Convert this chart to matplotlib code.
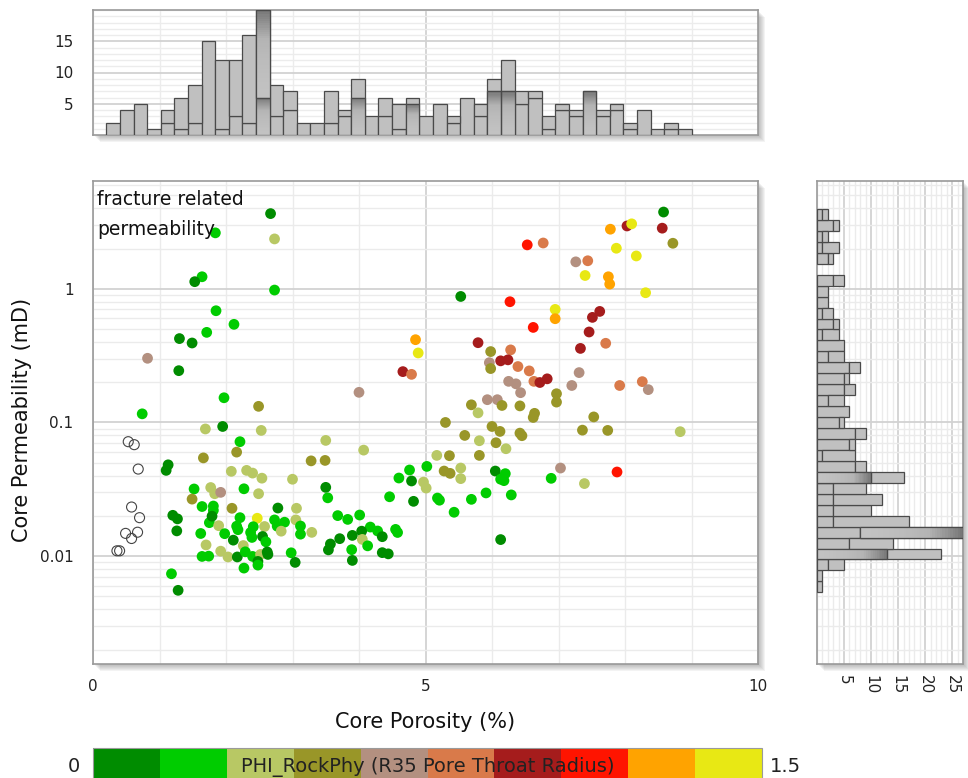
import numpy as np
import matplotlib as mpl
import matplotlib.pyplot as plt
from matplotlib.colors import ListedColormap, BoundaryNorm, LinearSegmentedColormap
from matplotlib.patches import Rectangle
from matplotlib.ticker import MultipleLocator, LogLocator, NullFormatter, FixedLocator

# ── scatter data: core porosity (%), core permeability (mD), R35 (microns) ──
porosity = [
    2.67, 2.73, 1.84, 1.64, 1.53, 2.73, 1.85, 2.12, 1.71, 1.30, 1.49, 0.82, 1.29, 4.00, 1.97,
    2.49, 0.74, 1.69, 1.95, 2.53, 4.85, 4.89, 4.66, 4.79, 8.58, 8.56, 8.72, 7.78, 8.03, 8.10,
    6.53, 6.77, 7.87, 8.17, 7.26, 7.44, 7.40, 7.75, 7.77, 8.31, 5.53, 6.27, 6.95, 6.95, 7.62,
    7.51, 6.62, 7.46, 5.79, 5.98, 6.28, 7.71, 7.33, 5.96, 6.13, 6.24, 5.98, 6.39, 6.56, 7.31,
    6.25, 6.36, 6.63, 6.72, 6.83, 7.20, 7.92, 8.26, 8.35, 6.43, 6.97, 6.97, 5.93, 6.08, 5.69,
    5.79, 6.15, 6.42, 6.64, 6.62, 7.53, 5.30, 6.00, 6.12, 5.59, 6.42, 6.45, 5.81, 6.06, 6.21,
    5.17, 5.36, 5.81, 7.36, 7.74, 8.83, 5.02, 5.28, 5.37, 5.53, 5.53, 6.05, 6.20, 6.13, 6.18,
    7.03, 6.89, 4.97, 5.01, 5.18, 5.21, 5.69, 5.91, 6.29, 5.43, 7.88, 7.39, 6.13,
    0.53, 0.62, 0.68, 0.58, 0.70, 0.49, 0.67, 0.58, 0.36, 0.40,
    2.21, 2.16, 3.50, 4.07, 1.66, 3.28, 3.49, 1.13, 1.10, 2.08, 2.31, 2.40, 2.54, 3.00, 2.27,
    2.49, 3.50, 3.53, 1.52, 1.77, 1.83, 1.92, 1.49, 1.64, 1.81, 1.81, 2.09, 2.78, 3.06, 1.20,
    1.27, 1.26, 1.75, 1.79, 1.89, 2.21, 2.16, 1.62, 1.98, 2.11, 2.47, 2.41, 2.58, 2.73, 2.77,
    2.88, 2.83, 3.05, 3.12, 3.12, 3.29, 2.39, 2.55, 2.60, 1.70, 1.92, 2.03, 1.64, 1.74, 2.17,
    2.26, 2.29, 2.40, 2.52, 2.62, 2.63, 2.48, 2.48, 2.27, 2.98, 3.04, 1.18, 1.28, 3.68, 3.83,
    4.01, 4.17, 4.28, 4.04, 3.90, 4.05, 4.35, 3.71, 3.57, 3.54, 4.13, 3.89, 3.90, 4.35, 4.44,
    4.55, 4.58, 4.46, 4.60, 4.76, 4.79, 4.82, 2.37, 2.18,
]
permeability = [
    3.65, 2.36, 2.62, 1.23, 1.13, 0.978, 0.685, 0.542, 0.472, 0.424, 0.393, 0.302, 0.244, 0.168, 0.153,
    0.132, 0.116, 0.0894, 0.0933, 0.0872, 0.416, 0.331, 0.240, 0.229, 3.75, 2.84, 2.19, 2.79, 2.95, 3.06,
    2.13, 2.20, 2.01, 1.76, 1.59, 1.62, 1.257, 1.23, 1.084, 0.934, 0.876, 0.800, 0.701, 0.597, 0.677,
    0.611, 0.514, 0.475, 0.395, 0.339, 0.349, 0.391, 0.358, 0.280, 0.289, 0.294, 0.253, 0.262, 0.243, 0.236,
    0.203, 0.1945, 0.203, 0.199, 0.212, 0.189, 0.189, 0.202, 0.176, 0.167, 0.164, 0.142, 0.148, 0.148, 0.1355,
    0.118, 0.134, 0.133, 0.117, 0.109, 0.110, 0.100, 0.0933, 0.0857, 0.080, 0.0832, 0.0796, 0.0730, 0.0705, 0.0636,
    0.0567, 0.0564, 0.0567, 0.0876, 0.0872, 0.0853, 0.0469, 0.0433, 0.0416, 0.0456, 0.0380, 0.0433, 0.0414, 0.0376, 0.0367,
    0.0456, 0.0382, 0.0358, 0.0323, 0.0272, 0.0262, 0.0266, 0.0297, 0.0287, 0.0213, 0.0426, 0.0349, 0.0133,
    0.0718, 0.0682, 0.0448, 0.0233, 0.0194, 0.0148, 0.0151, 0.01355, 0.01096, 0.01096,
    0.0718, 0.0600, 0.0734, 0.0621, 0.0543, 0.0516, 0.0520, 0.0482, 0.0438, 0.0431, 0.0438, 0.0418, 0.0383, 0.0376, 0.0319,
    0.0293, 0.0327, 0.0273, 0.0318, 0.0326, 0.0293, 0.0300, 0.0267, 0.0235, 0.0237, 0.0220, 0.0228, 0.0229, 0.0228, 0.0202,
    0.0190, 0.01545, 0.0178, 0.0199, 0.0169, 0.0194, 0.01675, 0.01477, 0.01472, 0.01317, 0.0192, 0.0166, 0.01666, 0.01866, 0.01675,
    0.01794, 0.01537, 0.01866, 0.0168, 0.0146, 0.01506, 0.0138, 0.01403, 0.0128, 0.01213, 0.01089, 0.00986, 0.00995, 0.0100, 0.00986,
    0.0120, 0.01077, 0.00995, 0.0103, 0.01075, 0.0103, 0.00913, 0.00857, 0.00814, 0.01059, 0.00898, 0.00738, 0.00555, 0.0201, 0.01883,
    0.0203, 0.0165, 0.01542, 0.01537, 0.01429, 0.01334, 0.01398, 0.01351, 0.01233, 0.01114, 0.01194, 0.01118, 0.00929, 0.01062, 0.0104,
    0.01585, 0.01503, 0.0278, 0.0384, 0.0441, 0.0365, 0.0257, 0.01503, 0.01577,
]
nan = np.nan
r35 = [
    0.07, 0.37, 0.22, 0.22, 0.07, 0.22, 0.22, 0.22, 0.22, 0.07, 0.07, 0.67, 0.07, 0.67, 0.22,
    0.52, 0.22, 0.37, 0.07, 0.37, 1.27, 1.42, 0.97, 0.82, 0.07, 0.97, 0.52, 1.27, 0.97, 1.42,
    1.12, 0.82, 1.42, 1.42, 0.67, 0.82, 1.42, 1.27, 1.27, 1.42, 0.07, 1.12, 1.42, 1.27, 0.97,
    0.97, 1.12, 0.97, 0.97, 0.52, 0.82, 0.82, 0.97, 0.67, 0.97, 0.97, 0.52, 0.82, 0.82, 0.67,
    0.67, 0.67, 0.82, 0.97, 0.97, 0.67, 0.82, 0.82, 0.67, 0.67, 0.52, 0.52, 0.67, 0.67, 0.52,
    0.37, 0.52, 0.52, 0.52, 0.52, 0.52, 0.52, 0.52, 0.52, 0.52, 0.52, 0.52, 0.37, 0.52, 0.37,
    0.37, 0.52, 0.52, 0.52, 0.52, 0.37, 0.22, 0.52, 0.52, 0.37, 0.37, 0.07, 0.22, 0.22, 0.22,
    0.67, 0.22, 0.37, 0.37, 0.22, 0.22, 0.22, 0.22, 0.22, 0.22, 1.12, 0.37, 0.07,
    nan, nan, nan, nan, nan, nan, nan, nan, nan, nan,
    0.22, 0.52, 0.37, 0.37, 0.52, 0.52, 0.52, 0.07, 0.07, 0.37, 0.37, 0.37, 0.37, 0.37, 0.22,
    0.37, 0.07, 0.22, 0.22, 0.37, 0.37, 0.67, 0.52, 0.22, 0.22, 0.22, 0.52, 0.07, 0.37, 0.07,
    0.07, 0.07, 0.22, 0.07, 0.37, 0.22, 0.22, 0.22, 0.22, 0.07, 1.42, 0.22, 0.37, 0.22, 0.22,
    0.22, 0.37, 0.37, 0.22, 0.22, 0.37, 0.22, 0.07, 0.22, 0.37, 0.37, 0.37, 0.22, 0.22, 0.07,
    0.37, 0.22, 0.22, 0.37, 0.07, 0.07, 0.07, 0.22, 0.22, 0.22, 0.07, 0.22, 0.07, 0.22, 0.22,
    0.22, 0.22, 0.22, 0.07, 0.07, 0.37, 0.07, 0.07, 0.07, 0.07, 0.22, 0.22, 0.07, 0.07, 0.07,
    0.22, 0.22, 0.22, 0.22, 0.22, 0.07, 0.07, 0.22, 0.22,
]

# ── marginal histograms (counts) ──
por_bin_lo, por_bin_hi = 0.2, 9.0
por_counts = [2, 4, 5, 1, 4, 6, 8, 15, 12, 12, 16, 20, 8, 7, 2, 2, 7, 4, 9, 3, 6, 5,
              6, 3, 5, 3, 6, 5, 9, 12, 7, 7, 3, 5, 4, 7, 4, 5, 2, 4, 1, 2, 1]
por_counts_sub = [2, 4, 5, 1, 2, 1, 2, 15, 1, 3, 2, 6, 3, 4, 2, 2, 2, 3, 6, 3, 3, 1,
                  5, 3, 5, 2, 6, 3, 7, 7, 5, 6, 1, 4, 3, 7, 3, 4, 1, 4, 1, 1, 1]
perm_bin_lo, perm_bin_hi = 0.00536, 3.95  # mD, log-spaced bins
perm_counts = [1, 1, 5, 23, 14, 27, 17, 10, 12, 9, 16, 9, 7, 7, 9, 5, 6, 5, 7, 6, 8, 5,
               5, 4, 4, 3, 2, 2, 5, 0, 3, 4, 2, 4, 2]
perm_counts_sub = [1, 1, 2, 13, 6, 8, 3, 3, 3, 3, 10, 7, 1, 6, 7, 4, 6, 2, 5, 5, 6, 2,
                   5, 1, 3, 1, 2, 2, 3, 0, 2, 1, 1, 3, 1]

# ── colour classes for R35 ──
r35_colors = ['#008c00', '#00cc00', '#b8c864', '#999628', '#b39080',
              '#d97a4a', '#a51c1c', '#ff1400', '#ffa300', '#e8e814']
r35_edges = np.linspace(0, 1.5, 11)

W, H = 968, 778
fig = plt.figure(figsize=(W / 100, H / 100), dpi=100)


def px_rect(x0, y0, x1, y1):
    return [x0 / W, 1 - y1 / H, (x1 - x0) / W, (y1 - y0) / H]


def shadow(ax, n=7):
    bb = ax.get_position()
    for k in range(1, n + 1):
        fig.patches.append(Rectangle((bb.x0 + k / W, bb.y0 - k / H), bb.width, bb.height,
                                     transform=fig.transFigure, fc='#606060', ec='none',
                                     alpha=0.07, zorder=-5))


def frame(ax):
    ax.set_facecolor('white')
    for s in ax.spines.values():
        s.set_color('#9a9a9a')
        s.set_linewidth(1.2)
    ax.tick_params(which='both', length=0, labelsize=11, colors='#222222')


shade_cm = LinearSegmentedColormap.from_list('shade', ['#c2c2c2', '#b4b4b4', '#727272'])


def shaded(ax, a0, a1, v0, v1, horizontal=False, n=40):
    ts = np.linspace(0, 1, n + 1)
    for i in range(n):
        lo, hi = v0 + (v1 - v0) * ts[i], v0 + (v1 - v0) * ts[i + 1]
        c = shade_cm(ts[i] ** 1.6)
        if horizontal:
            ax.add_patch(Rectangle((lo, a0), hi - lo, a1 - a0, fc=c, ec='none', zorder=3))
        else:
            ax.add_patch(Rectangle((a0, lo), a1 - a0, hi - lo, fc=c, ec='none', zorder=3))
    if horizontal:
        ax.add_patch(Rectangle((v0, a0), v1 - v0, a1 - a0, fc='none', ec='#4a4a4a', lw=0.9, zorder=3.1))
    else:
        ax.add_patch(Rectangle((a0, v0), a1 - a0, v1 - v0, fc='none', ec='#4a4a4a', lw=0.9, zorder=3.1))


ax = fig.add_axes(px_rect(93, 181, 758, 664))
axt = fig.add_axes(px_rect(93, 10, 758, 135))
axr = fig.add_axes(px_rect(817, 181, 963, 664))
cax = fig.add_axes(px_rect(93, 748, 762, 786))
for a in (ax, axt, axr):
    shadow(a)
    frame(a)

# ── main scatter ──
por = np.array(porosity)
perm = np.array(permeability)
rr = np.array(r35)
cmap = ListedColormap(r35_colors)
norm = BoundaryNorm(r35_edges, cmap.N)
has = ~np.isnan(rr)
ax.scatter(por[has], perm[has], c=rr[has], cmap=cmap, norm=norm, s=60, lw=0, zorder=4)
ax.scatter(por[~has], perm[~has], facecolors='none', edgecolors='#444444', s=52, lw=0.8, zorder=4)

ylim = (0.00156, 6.4)
ax.set_xlim(0, 10)
ax.set_yscale('log')
ax.set_ylim(*ylim)
ax.xaxis.set_major_locator(FixedLocator([0, 5, 10]))
ax.xaxis.set_minor_locator(MultipleLocator(1))
ax.yaxis.set_major_locator(FixedLocator([0.01, 0.1, 1]))
ax.yaxis.set_major_formatter(plt.FuncFormatter(lambda v, p: {0.01: '0.01', 0.1: '0.1', 1: '1'}.get(round(v, 3), '')))
ax.yaxis.set_minor_locator(LogLocator(base=10, subs=np.arange(2, 10)))
ax.yaxis.set_minor_formatter(NullFormatter())
ax.grid(which='major', color='#d2d2d2', lw=1.3)
ax.grid(which='minor', color='#ebebeb', lw=1.0)
ax.set_axisbelow(True)
ax.tick_params(axis='x', pad=11)
ax.tick_params(axis='y', pad=14)
ax.text(0.006, 0.982, 'fracture related\npermeability', transform=ax.transAxes,
        ha='left', va='top', fontsize=13.5, color='#111111', linespacing=1.75, zorder=6)

# ── top histogram (porosity) ──
edges = np.linspace(por_bin_lo, por_bin_hi, len(por_counts) + 1)
wid = np.diff(edges)
pc = np.array(por_counts)
ps = np.array(por_counts_sub)
axt.bar(edges[:-1], ps, wid, align='edge', color='#c0c0c0', edgecolor='#4a4a4a', lw=0.9, zorder=3)
up = pc - ps
m = up > 0
axt.bar(edges[:-1][m], up[m], wid[m], bottom=ps[m], align='edge', color='#c0c0c0',
        edgecolor='#4a4a4a', lw=0.9, zorder=3)
for i in (11, 18, 22, 28, 29, 35):
    shaded(axt, edges[i], edges[i + 1], 0, ps[i])
shaded(axt, edges[11], edges[12], ps[11], pc[11])
axt.set_xlim(0, 10)
axt.set_ylim(0, 20)
axt.xaxis.set_major_locator(FixedLocator([5]))
axt.xaxis.set_minor_locator(MultipleLocator(1))
axt.xaxis.set_major_formatter(NullFormatter())
axt.yaxis.set_major_locator(FixedLocator([5, 10, 15]))
axt.yaxis.set_minor_locator(MultipleLocator(1))
axt.grid(which='major', color='#d2d2d2', lw=1.3)
axt.grid(which='minor', color='#ececec', lw=1.0)
axt.set_axisbelow(True)
axt.tick_params(axis='y', pad=14)

# ── right histogram (permeability) ──
pedges = np.logspace(np.log10(perm_bin_lo), np.log10(perm_bin_hi), len(perm_counts) + 1)
ph = np.diff(pedges)
qc = np.array(perm_counts)
qs = np.array(perm_counts_sub)
m = qs > 0
axr.barh(pedges[:-1][m], qs[m], ph[m], align='edge', color='#c0c0c0', edgecolor='#4a4a4a', lw=0.9, zorder=3)
up = qc - qs
m = up > 0
axr.barh(pedges[:-1][m], up[m], ph[m], left=qs[m], align='edge', color='#c0c0c0',
         edgecolor='#4a4a4a', lw=0.9, zorder=3)
for i in (10, 3):
    shaded(axr, pedges[i], pedges[i + 1], 0, qs[i], horizontal=True)
shaded(axr, pedges[5], pedges[6], qs[5], qc[5], horizontal=True)
axr.set_yscale('log')
axr.set_ylim(*ylim)
axr.set_xlim(0, 27)
axr.xaxis.set_major_locator(FixedLocator([5, 10, 15, 20, 25]))
axr.xaxis.set_minor_locator(MultipleLocator(1))
axr.yaxis.set_major_locator(FixedLocator([0.01, 0.1, 1]))
axr.yaxis.set_minor_locator(LogLocator(base=10, subs=np.arange(2, 10)))
axr.yaxis.set_major_formatter(NullFormatter())
axr.yaxis.set_minor_formatter(NullFormatter())
axr.grid(which='major', color='#d2d2d2', lw=1.3)
axr.grid(which='minor', color='#ebebeb', lw=1.0)
axr.set_axisbelow(True)
axr.tick_params(axis='x', labelrotation=270, pad=8)

# ── axis titles ──
fig.text(22 / W, 1 - 420 / H, 'Core Permeability (mD)', rotation=90, ha='center', va='center',
         fontsize=15, color='#111111')
fig.text(425 / W, 1 - 722 / H, 'Core Porosity (%)', ha='center', va='center',
         fontsize=15, color='#111111')

# ── colour legend ──
cb = mpl.colorbar.ColorbarBase(cax, cmap=cmap, norm=norm, orientation='horizontal')
cb.set_ticks([])
cb.outline.set_edgecolor('#9a9a9a')
cax.text(0.5, 0.5, 'PHI_RockPhy (R35 Pore Throat Radius)', transform=cax.transAxes,
         ha='center', va='center', fontsize=14, color='#222222')
fig.text(80 / W, 1 - 766 / H, '0', ha='right', va='center', fontsize=14, color='#222222')
fig.text(770 / W, 1 - 766 / H, '1.5', ha='left', va='center', fontsize=14, color='#222222')

fig.savefig('out.png', dpi=100)
